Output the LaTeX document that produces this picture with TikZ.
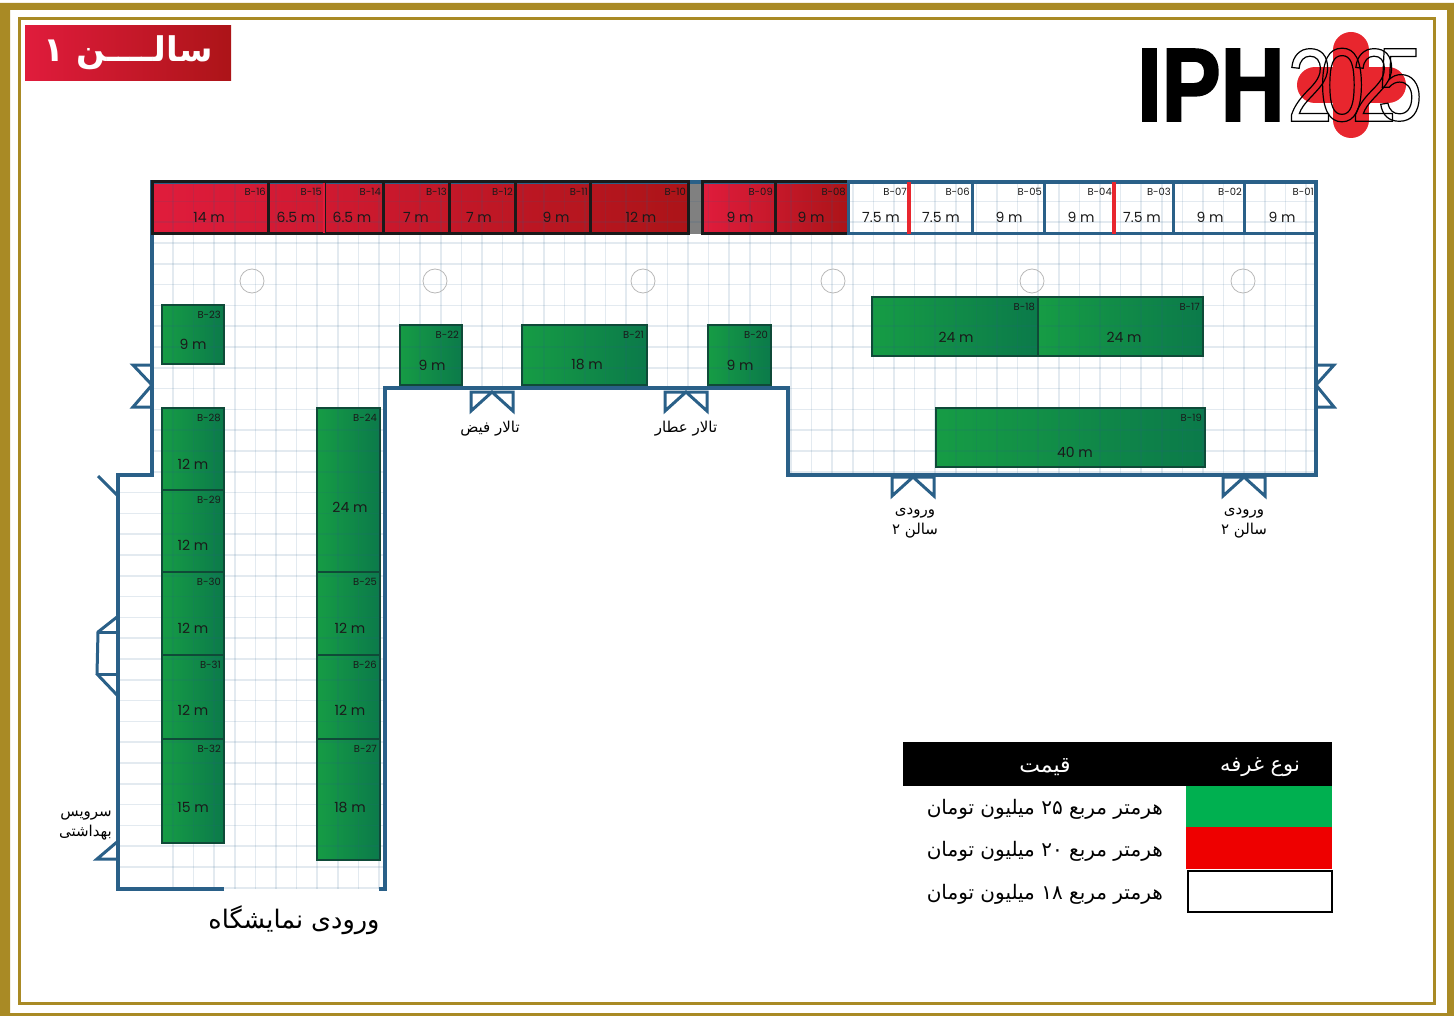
\documentclass[tikz,border=0pt]{standalone}
\usepackage{fontspec}
\setmainfont{Poppins}
\newfontfamily\arabicfont[Script=Arabic]{DejaVu Sans}
\newfontfamily\logofont[FakeStretch=.85]{Liberation Sans}
\newfontfamily\yearfont[FakeStretch=.78]{Liberation Sans}
\TeXXeTstate=1
\definecolor{gold}{HTML}{A98A25}
\definecolor{wallblue}{HTML}{2A6088}
\definecolor{stallink}{HTML}{1A1A1A}
\definecolor{logored}{HTML}{E8262E}
\definecolor{crimson}{HTML}{E01C3C}
\definecolor{midred}{HTML}{CF182C}
\definecolor{deepred}{HTML}{AC1418}
\definecolor{greenleft}{HTML}{169C45}
\definecolor{greenright}{HTML}{0B7A4A}
\definecolor{greenedge}{HTML}{0F4A38}
% stall lists: id / left / top / right / bottom / size x / size y / size
\def\toprow{16/152/182/268/234/209/217/14 m, 15/268/182/324/234/296/217/6.5 m, 14/324/182/383/234/352/217/6.5 m,
  13/383/182/449/234/416/217/7 m, 12/449/182/515/234/479/217/7 m, 11/515/182/590/234/556/217/9 m,
  10/590/182/688/234/641/217/12 m, 09/702/182/775/234/740/217/9 m, 08/775/182/848/234/811/217/9 m}
\def\whiterow{07/848/182/909/234/881/217/7.5 m, 06/909/182/972/234/941/217/7.5 m, 05/972/182/1044/234/1009/217/9 m,
  04/1044/182/1114/234/1081/217/9 m, 03/1114/182/1173/234/1142/217/7.5 m, 02/1173/182/1244/234/1210/217/9 m,
  01/1244/182/1316/234/1282/217/9 m}
\def\greenstalls{23/162/305/224/364/193/344/9 m, 22/400/325/462/385/432/365/9 m, 21/522/325/647/385/587/365/18 m,
  20/708/325/771/385/740/365/9 m, 18/872/297/1038/356/956/337/24 m, 17/1038/297/1203/356/1124/337/24 m,
  19/936/408/1205/467/1075/452/40 m, 28/162/408/224/490/193/464/12 m, 29/162/490/224/572/193/545/12 m,
  30/162/572/224/655/193/628/12 m, 31/162/655/224/739/193/710/12 m, 32/162/739/224/843/193/807/15 m,
  24/317/408/380/572/350/507/24 m, 25/317/572/380/655/350/628/12 m, 26/317/655/380/739/350/710/12 m,
  27/317/739/380/860/350/807/18 m}
\def\hallpath{(152,182) -- (1316,182) -- (1316,475) -- (788,475) -- (788,388) -- (385,388) -- (385,889) -- (118,889) -- (118,475) -- (152,475) -- cycle}

\begin{document}
\begin{tikzpicture}[x = 1pt, y = -1pt, every node/.style = { inner sep = 0pt, align = center },
    wall/.style = { draw = wallblue, line width = 4pt },
    doorline/.style = { draw = wallblue, line width = 3pt, line join = miter },
    gridline/.style = { draw = wallblue, opacity = .13, line width = 1.5pt },
    greenfill/.style = { left color = greenleft, right color = greenright },
    stallcode/.style = { anchor = east, text = stallink, font = \fontsize{10}{12}\selectfont },
    stallsize/.style = { text = stallink, font = \fontsize{14}{16}\selectfont },
    persian/.style = { text = black, font = \arabicfont\fontsize{#1}{20}\selectfont },
    legendcell/.style = { anchor = north west, minimum width = 146pt, minimum height = 42pt }]
    \useasboundingbox (0,0) rectangle (1454,1016);

    % frame
    \fill[gold, even odd rule] (0,3) rectangle (1454,1016) (10,10) rectangle (1447,1013);
    \draw[gold, line width = 3pt] (19.5,18.5) rectangle (1434.5,1003.5);

    % title and logo
    \node[anchor = north west, minimum width = 206pt, minimum height = 55pt, left color = crimson, middle color = midred, right color = deepred] (title) at (25,25)
      {\color{white}\arabicfont\bfseries\fontsize{34}{40}\selectfont\beginR سالــــن ۱\endR};
    \draw[logored, line width = 36pt, line cap = round] (1351,50) -- (1351,120);
    \draw[logored, line width = 36pt, line cap = round] (1315,85) -- (1388,85);
    \node[anchor = west] (iph) at (1137,85) {\logofont\bfseries\fontsize{104}{110}\selectfont\special{pdf:literal direct 2 Tr 2 w}IPH\special{pdf:literal direct 0 Tr}};
    \foreach \dx/\digit/\dname in {1310/2/a, 1342/0/b, 1374/2/c, 1400/5/d}
      \node (year\dname) at (\dx,85) {\yearfont\fontsize{104}{110}\selectfont\special{pdf:literal direct 1 Tr 1.2 w}\digit\special{pdf:literal direct 0 Tr}};

    % stall fills
    \path[left color = crimson, middle color = midred, right color = deepred] (152,182) rectangle (688,234);
    \path[left color = crimson, right color = deepred] (702,182) rectangle (848,234);
    \fill[gray] (688,182) rectangle (702,234);
    \foreach \id/\xa/\ya/\xb/\yb/\sx/\sy/\size in \greenstalls
      \path[greenfill] (\xa,\ya) rectangle (\xb,\yb);

    % floor grid
    \begin{scope}
      \clip \hallpath;
      \foreach \gx in {173,193.6,...,1316} \draw[gridline] (\gx,182) -- (\gx,889);
      \foreach \gy in {201.4,222.2,...,889} \draw[gridline] (118,\gy) -- (1316,\gy);
    \end{scope}

    % columns
    \foreach \cx in {252,435,643,833,1032,1243}
      \draw[black!28, line width = .8pt] (\cx,281) circle (12);

    % hall walls, open at the bottom
    \draw[wall, line join = miter] (224,889) -- (118,889) -- (118,475) -- (152,475) -- (152,182) -- (1316,182) -- (1316,475) -- (788,475) -- (788,388) -- (385,388) -- (385,889) -- (379,889);

    % doors
    \foreach \cx/\cy in {492/392, 686/392, 913/477, 1244/477}
      \draw[doorline] (\cx-21,\cy+19) -- (\cx-21,\cy) -- (\cx+21,\cy) -- (\cx+21,\cy+19) -- (\cx,\cy) -- cycle;
    \draw[doorline] (152,365) -- (133,365) -- (152,385) -- (133,407) -- (152,407);
    \draw[doorline] (1316,365) -- (1334,365) -- (1316,385) -- (1334,407) -- (1316,407);
    \draw[doorline] (98,476) -- (117,495);
    \draw[doorline] (117,617) -- (98,632) -- (97,674) -- (117,695);
    \draw[doorline] (98,632) -- (117,632);
    \draw[doorline] (97,674) -- (117,674);
    \draw[doorline] (117,842) -- (97,859) -- (117,859);

    % stalls
    \foreach \id/\xa/\ya/\xb/\yb/\sx/\sy/\size in \toprow {
      \draw[stallink, line width = 3pt] (\xa,\ya) rectangle (\xb,\yb);
      \node[stallcode] (b\id) at (\xb-2,\ya+10) {B-\id};
      \node[stallsize] (s\id) at (\sx,\sy) {\size};
    }
    \foreach \id/\xa/\ya/\xb/\yb/\sx/\sy/\size in \whiterow {
      \draw[wallblue, line width = 3pt] (\xa,\ya) rectangle (\xb,\yb);
      \node[stallcode] (b\id) at (\xb-2,\ya+10) {B-\id};
      \node[stallsize] (s\id) at (\sx,\sy) {\size};
    }
    \foreach \id/\xa/\ya/\xb/\yb/\sx/\sy/\size in \greenstalls {
      \draw[greenedge, line width = 2.5pt] (\xa,\ya) rectangle (\xb,\yb);
      \node[stallcode] (b\id) at (\xb-3,\ya+10) {B-\id};
      \node[stallsize] (s\id) at (\sx,\sy) {\size};
    }
    \draw[crimson, line width = 1.5pt] (324,183) -- (324,233);
    \draw[logored, line width = 3.5pt] (909,182) -- (909,234);
    \draw[logored, line width = 3.5pt] (1114,182) -- (1114,234);

    % place names
    \node[persian = 15] (feyz) at (490,429) {\beginR تالار فیض\endR};
    \node[persian = 15] (attar) at (686,429) {\beginR تالار عطار\endR};
    \node[persian = 15] (hall2a) at (915,523) {\beginR ورودی\endR\\\beginR سالن ۲\endR};
    \node[persian = 15] (hall2b) at (1244,523) {\beginR ورودی\endR\\\beginR سالن ۲\endR};
    \node[persian = 15, align = right, anchor = east] (toilets) at (112,826) {\beginR سرویس\endR\\\beginR بهداشتی\endR};
    \node[persian = 25.5] (entrance) at (294,920) {\beginR ورودی نمایشگاه\endR};

    % legend
    \node[anchor = north west, fill = black, minimum width = 429pt, minimum height = 44pt] (head) at (903,742) {};
    \node[persian = 22, text = white] (price) at (1045,767) {\beginR قیمت\endR};
    \node[persian = 21, text = white] (kind) at (1260,767) {\beginR نوع غرفه\endR};
    \node[legendcell, fill = {rgb,255:red,0;green,176;blue,80}] (cellgreen) at (1186,786) {};
    \node[legendcell, fill = {rgb,255:red,238;green,0;blue,0}] (cellred) at (1186,827) {};
    \node[legendcell, draw = black, line width = 2pt, minimum width = 144pt, minimum height = 41pt] (cellwhite) at (1187,870) {};
    \node[persian = 20, anchor = east] (price25) at (1163,809) {\beginR هرمتر مربع \beginL ۲۵\endL{} میلیون تومان\endR};
    \node[persian = 20, anchor = east] (price20) at (1163,851) {\beginR هرمتر مربع \beginL ۲۰\endL{} میلیون تومان\endR};
    \node[persian = 20, anchor = east] (price18) at (1163,894) {\beginR هرمتر مربع \beginL ۱۸\endL{} میلیون تومان\endR};
  \end{tikzpicture}
\end{document}
